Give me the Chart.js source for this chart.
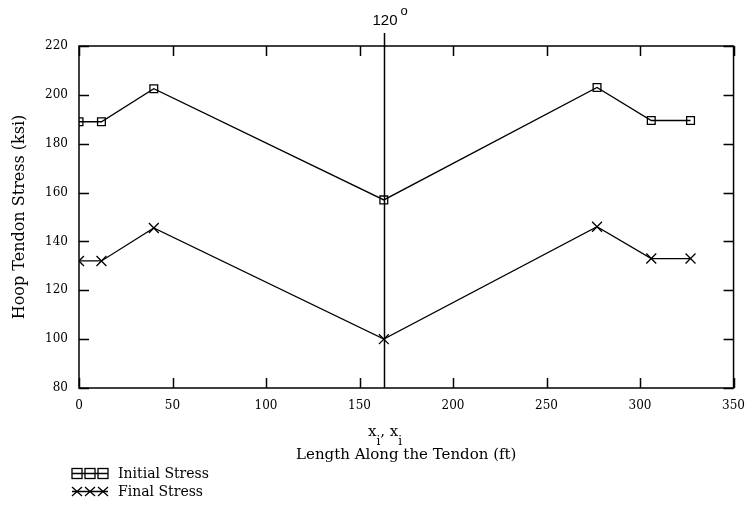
<!DOCTYPE html>
<html><head><meta charset="utf-8">
<script src="https://cdn.jsdelivr.net/npm/chart.js@4/dist/chart.umd.min.js"></script>
<style>html,body{margin:0;padding:0;background:#fff}#wrap{width:756px;height:512px;position:relative}</style>
</head><body><div id="wrap"><canvas id="c" width="756" height="512"></canvas></div>
<script>
const lengths = [0, 12, 40, 163, 277, 306, 327];
const initialStress = [189, 189, 202.5, 157, 203, 189.5, 189.5];
const finalStress = [132, 132, 145.5, 100, 146, 133, 133];
const xTicks = [0, 50, 100, 150, 200, 250, 300, 350];
const yTicks = [80, 100, 120, 140, 160, 180, 200, 220];
const markerX = 163;
const markerLabel = '120';
const seriesNames = ['Initial Stress', 'Final Stress'];
const xTitle = 'Length Along the Tendon (ft)';
const yTitle = 'Hoop Tendon Stress (ksi)';

const SERIF = '"DejaVu Serif", "Liberation Serif", serif';

const toPts = ys => lengths.map((x, i) => ({x, y: ys[i]}));

const decor = {
  id: 'decor',
  afterDraw(chart) {
    const ctx = chart.ctx, ca = chart.chartArea;
    const xs = chart.scales.x, ys = chart.scales.y;
    ctx.save();
    ctx.strokeStyle = '#000';
    ctx.lineWidth = 1.5;
    ctx.strokeRect(ca.left, ca.top, ca.right - ca.left, ca.bottom - ca.top);
    const tl = 10;
    ctx.beginPath();
    xTicks.forEach(v => {
      const p = Math.round(xs.getPixelForValue(v)) + 0.5;
      ctx.moveTo(p, ca.bottom); ctx.lineTo(p, ca.bottom - tl);
      ctx.moveTo(p, ca.top); ctx.lineTo(p, ca.top + tl);
    });
    yTicks.forEach(v => {
      const p = Math.round(ys.getPixelForValue(v)) + 0.5;
      ctx.moveTo(ca.left, p); ctx.lineTo(ca.left + tl, p);
      ctx.moveTo(ca.right, p); ctx.lineTo(ca.right - tl, p);
    });
    ctx.stroke();
    // vertical marker line
    const vx = Math.round(xs.getPixelForValue(markerX)) + 0.5;
    ctx.beginPath();
    ctx.moveTo(vx, ca.top - 13); ctx.lineTo(vx, ca.bottom);
    ctx.stroke();
    ctx.fillStyle = '#000';
    ctx.font = '15px "Liberation Sans", Arial, sans-serif';
    ctx.textAlign = 'right'; ctx.textBaseline = 'middle';
    ctx.fillText(markerLabel, vx + 13, 21);
    ctx.font = '13px "Liberation Sans", Arial, sans-serif';
    ctx.textAlign = 'left';
    ctx.fillText('o', vx + 16, 11);
    // x_i, x_i subtitle
    ctx.textBaseline = 'alphabetic';
    let cx = 368;
    const part = (t, f, y) => { ctx.font = f; ctx.fillText(t, cx, y); cx += ctx.measureText(t).width; };
    part('x', '15px ' + SERIF, 436);
    part('i', '12px ' + SERIF, 445);
    part(', ', '15px ' + SERIF, 436);
    part('x', '15px ' + SERIF, 436);
    part('i', '12px ' + SERIF, 445);
    // legend
    const rows = [{y: 473, style: 'rect'}, {y: 491, style: 'cross'}];
    rows.forEach((r, i) => {
      ctx.lineWidth = 1.3;
      ctx.beginPath(); ctx.moveTo(72, r.y + 0.5); ctx.lineTo(108, r.y + 0.5); ctx.stroke();
      [77, 90, 103].forEach(px => {
        if (r.style === 'rect') {
          ctx.strokeRect(px - 5, r.y - 4.5, 10, 10);
        } else {
          ctx.beginPath();
          ctx.moveTo(px - 5, r.y - 4); ctx.lineTo(px + 5, r.y + 5);
          ctx.moveTo(px + 5, r.y - 4); ctx.lineTo(px - 5, r.y + 5);
          ctx.stroke();
        }
      });
      ctx.font = '14px ' + SERIF;
      ctx.textAlign = 'left'; ctx.textBaseline = 'middle';
      ctx.fillText(seriesNames[i], 118, r.y + 1);
    });
    ctx.restore();
  }
};

new Chart(document.getElementById('c'), {
  type: 'scatter',
  data: {
    datasets: [
      {label: seriesNames[0], data: toPts(initialStress), showLine: true, borderColor: '#000', borderWidth: 1.3,
       pointStyle: 'rect', pointRadius: 5.5, pointBorderWidth: 1.3, pointBackgroundColor: 'rgba(0,0,0,0)', pointBorderColor: '#000'},
      {label: seriesNames[1], data: toPts(finalStress), showLine: true, borderColor: '#000', borderWidth: 1.3,
       pointStyle: 'crossRot', pointRadius: 7, pointBorderWidth: 1.3, pointBackgroundColor: 'rgba(0,0,0,0)', pointBorderColor: '#000'}
    ]
  },
  options: {
    responsive: false, animation: false, events: [],
    layout: {padding: {left: 0, right: 18, top: 46, bottom: 0}},
    plugins: {legend: {display: false}, tooltip: {enabled: false}},
    scales: {
      x: {
        type: 'linear', min: 0, max: 350,
        afterBuildTicks: s => { s.ticks = xTicks.map(v => ({value: v})); },
        afterFit: s => { s.height = 124; },
        grid: {display: false, drawTicks: false}, border: {display: false},
        ticks: {padding: 11, color: '#000', font: {family: SERIF, size: 12, weight: '500'}, maxRotation: 0},
        title: {display: true, text: xTitle, color: '#000', font: {family: SERIF, size: 15}, padding: {bottom: 48}}
      },
      y: {
        type: 'linear', min: 80, max: 220,
        afterBuildTicks: s => { s.ticks = yTicks.map(v => ({value: v})); },
        afterFit: s => { s.width = 79; },
        grid: {display: false, drawTicks: false}, border: {display: false},
        ticks: {padding: 11, color: '#000', font: {family: SERIF, size: 12, weight: '500'}},
        title: {display: true, text: yTitle, color: '#000', font: {family: SERIF, size: 16}, padding: {top: 10}}
      }
    }
  },
  plugins: [decor]
});
</script>
</body></html>
